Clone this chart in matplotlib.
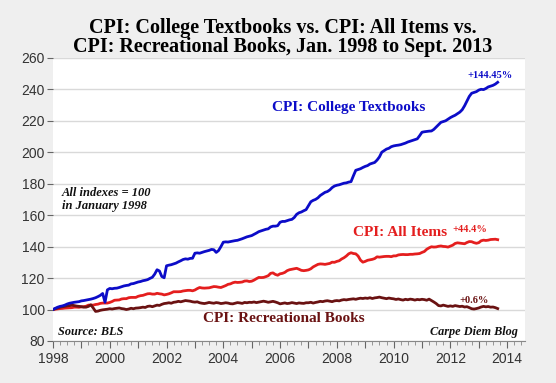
import numpy as np
import matplotlib.pyplot as plt
from matplotlib.ticker import MultipleLocator, FuncFormatter

# monthly index values, Jan 1998 = 100 (Jan 1998 .. Sep 2013)
textbooks = [
    100.0, 100.8, 101.5, 102.0, 102.3, 102.8, 103.5, 104.0, 104.3, 104.6, 104.8, 105.0,
    105.5, 105.7, 106.0, 106.3, 106.6, 107.0, 107.5, 108.2, 109.0, 110.2, 104.6, 112.5,
    113.4, 113.2, 113.5, 113.6, 114.0, 114.5, 115.0, 115.3, 115.5, 116.3, 116.5, 117.0,
    117.5, 117.8, 118.3, 118.6, 119.0, 119.8, 120.5, 122.5, 125.3, 124.5, 121.0, 120.2,
    127.8, 128.2, 128.5, 129.0, 129.5, 130.3, 131.0, 131.8, 132.2, 132.0, 132.5, 132.6,
    135.8, 136.0, 135.8, 136.3, 136.8, 137.2, 137.6, 138.2, 138.0, 136.3, 137.5, 140.0,
    142.8, 143.0, 142.9, 143.2, 143.5, 143.8, 144.0, 144.5, 145.0, 145.6, 146.2, 146.6,
    147.0, 147.8, 148.6, 149.5, 150.0, 150.5, 151.0, 151.3, 152.5, 153.0, 153.0, 153.3,
    155.5, 156.0, 156.0, 156.5, 157.0, 157.3, 158.5, 160.5, 161.5, 162.0, 162.8, 163.5,
    166.0, 168.5, 169.4, 170.0, 171.0, 172.5, 173.5, 174.5, 175.0, 176.0, 177.5, 178.5,
    179.0, 179.3, 179.8, 180.3, 180.5, 181.0, 181.3, 185.0, 188.5, 189.0, 189.5, 190.3,
    191.0, 191.5, 192.5, 193.0, 193.5, 195.0, 197.0, 200.0, 201.0, 202.0, 202.5, 203.5,
    204.0, 204.3, 204.5, 204.8, 205.3, 205.8, 206.5, 207.0, 207.5, 208.0, 208.5, 210.5,
    212.7, 213.0, 213.2, 213.4, 213.5, 214.5, 216.0, 217.5, 219.0, 219.5, 220.0, 221.0,
    222.0, 222.8, 223.5, 224.5, 225.5, 227.0, 229.5, 232.5, 235.5, 237.5, 238.0, 238.5,
    239.5, 240.0, 239.8, 240.5, 241.5, 242.0, 242.5, 243.3, 244.45,
]

all_items = [
    100.0, 100.2, 100.4, 100.6, 100.7, 100.9, 101.0, 101.1, 101.2, 101.5, 101.5, 101.4,
    101.7, 101.8, 102.1, 102.8, 102.8, 102.8, 103.2, 103.4, 103.9, 104.1, 104.1, 104.1,
    104.5, 105.1, 105.9, 106.0, 106.1, 106.7, 106.9, 106.9, 107.5, 107.7, 107.7, 107.7,
    108.4, 108.8, 109.0, 109.5, 110.0, 110.1, 109.8, 109.8, 110.3, 110.0, 109.8, 109.3,
    109.6, 110.0, 110.6, 111.3, 111.3, 111.3, 111.4, 111.8, 112.0, 112.2, 112.2, 111.9,
    112.4, 113.3, 114.0, 113.7, 113.6, 113.7, 113.8, 114.2, 114.6, 114.5, 114.2, 114.0,
    114.6, 115.2, 116.0, 116.3, 117.0, 117.4, 117.2, 117.3, 117.5, 118.1, 118.2, 117.8,
    118.0, 118.7, 119.6, 120.4, 120.3, 120.4, 120.9, 121.5, 123.0, 123.3, 122.3, 121.8,
    122.7, 123.0, 123.6, 124.7, 125.3, 125.6, 125.9, 126.2, 125.6, 124.9, 124.7, 124.9,
    125.2, 125.9, 127.1, 127.9, 128.7, 129.0, 128.9, 128.7, 129.0, 129.3, 130.1, 130.0,
    130.6, 131.0, 132.1, 132.9, 134.0, 135.4, 136.1, 135.6, 135.4, 134.0, 131.4, 130.1,
    130.6, 131.3, 131.6, 131.9, 132.4, 133.5, 133.3, 133.5, 133.7, 133.8, 133.8, 133.6,
    134.1, 134.1, 134.7, 134.9, 135.0, 134.9, 134.9, 135.1, 135.1, 135.3, 135.4, 135.6,
    136.3, 136.9, 138.3, 139.2, 139.9, 139.7, 139.8, 140.2, 140.4, 140.1, 140.0, 139.7,
    140.3, 140.9, 142.0, 142.4, 142.2, 142.0, 141.8, 142.6, 143.2, 143.1, 142.5, 142.1,
    142.5, 143.7, 144.1, 143.9, 144.1, 144.5, 144.6, 144.7, 144.4,
]

rec_books = [
    100.0, 100.5, 101.0, 101.5, 101.8, 102.0, 102.3, 102.5, 102.8, 102.5, 102.2, 102.0,
    101.8, 101.5, 101.5, 102.0, 103.0, 101.0, 98.8, 99.0, 99.5, 99.8, 100.0, 100.2,
    100.5, 100.3, 100.6, 100.8, 101.0, 100.6, 100.4, 100.0, 100.3, 100.8, 100.5, 100.9,
    101.0, 101.2, 101.5, 101.3, 102.0, 102.2, 101.8, 102.3, 102.8, 102.6, 103.3, 103.8,
    104.0, 104.3, 104.0, 104.6, 104.8, 105.2, 104.9, 105.3, 105.7, 105.5, 105.3, 104.9,
    104.7, 104.9, 104.3, 104.0, 103.8, 104.1, 104.5, 104.2, 104.0, 104.4, 104.2, 103.8,
    104.0, 104.3, 104.1, 103.7, 103.6, 104.0, 104.4, 104.2, 103.9, 104.5, 104.3, 104.6,
    104.5, 104.8, 104.4, 104.7, 105.0, 105.3, 105.0, 104.6, 104.9, 105.2, 104.8, 104.3,
    103.6, 103.9, 104.2, 103.8, 104.0, 104.4, 104.1, 103.8, 104.2, 104.0, 103.9, 104.3,
    104.3, 104.6, 104.1, 104.5, 104.8, 105.2, 105.0, 105.4, 105.6, 105.3, 105.0, 105.5,
    105.7, 105.5, 106.0, 106.3, 106.1, 106.4, 106.6, 106.8, 106.5, 106.9, 107.2, 107.0,
    107.3, 107.1, 107.5, 107.0, 107.4, 107.6, 107.9, 107.5, 107.2, 106.9, 107.3, 107.0,
    106.8, 106.4, 106.7, 106.3, 106.0, 106.5, 106.2, 106.6, 106.4, 106.0, 106.4, 106.2,
    106.5, 106.3, 105.9, 106.6, 105.7, 104.8, 103.8, 102.5, 102.3, 102.8, 102.4, 102.0,
    102.3, 102.0, 102.5, 102.2, 101.9, 102.1, 101.6, 101.8, 101.2, 100.5, 100.3, 100.6,
    101.0, 101.6, 102.0, 101.7, 101.9, 101.5, 101.6, 101.2, 100.6,
]

t = 1998 + np.arange(len(textbooks)) / 12.0

blue = '#0c0cc8'
red = '#e41e1e'
maroon = '#6a1212'
serif = ['Liberation Serif', 'DejaVu Serif']

fig = plt.figure(figsize=(5.56, 3.83), dpi=100)
fig.patch.set_facecolor('#efefef')
ax = fig.add_axes([0.0953, 0.1097, 0.849, 0.7393])
ax.set_facecolor('white')

ax.plot(t, all_items, color=red, lw=2.0, zorder=3)
ax.plot(t, rec_books, color=maroon, lw=2.0, zorder=3)
ax.plot(t, textbooks, color=blue, lw=2.0, zorder=4)

ax.set_xlim(1998, 2014.63)
ax.set_ylim(80, 260)
ax.yaxis.set_major_locator(MultipleLocator(20))
ax.xaxis.set_major_locator(MultipleLocator(1))
ax.xaxis.set_minor_locator(MultipleLocator(0.25))
ax.xaxis.set_major_formatter(FuncFormatter(lambda v, p: '%d' % v if int(round(v)) % 2 == 0 else ''))
ax.grid(axis='y', color='#d9d9d9', lw=1)
ax.set_axisbelow(True)

for s in ['top', 'right', 'left']:
    ax.spines[s].set_visible(False)
ax.spines['bottom'].set_color('#888888')
ax.spines['bottom'].set_linewidth(0.8)

ax.tick_params(axis='y', length=4, color='#666666', labelsize=10, labelcolor='#333333', pad=2)
ax.tick_params(axis='x', which='major', length=5, color='#666666', labelsize=10, labelcolor='#333333', pad=3)
ax.tick_params(axis='x', which='minor', length=3, color='#888888')
for label in ax.get_xticklabels() + ax.get_yticklabels():
    label.set_family(['Liberation Sans', 'DejaVu Sans'])

fig.text(0.509, 0.928, 'CPI: College Textbooks vs. CPI: All Items vs.',
         ha='center', va='center', fontsize=14.5, fontweight='bold', family=serif)
fig.text(0.509, 0.876, 'CPI: Recreational Books, Jan. 1998 to Sept. 2013',
         ha='center', va='center', fontsize=14.5, fontweight='bold', family=serif)

ax.text(2013.4, 249, '+144.45%', color=blue, fontsize=7.5, fontweight='bold', ha='center', va='center', family=serif)
ax.text(2008.43, 228.7, 'CPI: College Textbooks', color=blue, fontsize=11, fontweight='bold', ha='center', va='center', family=serif)
ax.text(1998.32, 170, 'All indexes = 100\nin January 1998', color='#111111', fontsize=9, fontweight='bold',
        style='italic', ha='left', va='center', linespacing=1.15, family=serif)
ax.text(2010.23, 149, 'CPI: All Items', color=red, fontsize=11, fontweight='bold', ha='center', va='center', family=serif)
ax.text(2012.7, 151, '+44.4%', color=red, fontsize=7.5, fontweight='bold', ha='center', va='center', family=serif)
ax.text(2012.84, 105.7, '+0.6%', color=maroon, fontsize=7.5, fontweight='bold', ha='center', va='center', family=serif)
ax.text(2006.14, 94.3, 'CPI: Recreational Books', color=maroon, fontsize=11, fontweight='bold', ha='center', va='center', family=serif)
ax.text(1998.18, 85.4, 'Source: BLS', color='#111111', fontsize=8.8, fontweight='bold', style='italic', ha='left', va='center', family=serif)
ax.text(2014.39, 85.4, 'Carpe Diem Blog', color='#111111', fontsize=8.8, fontweight='bold', style='italic', ha='right', va='center', family=serif)

fig.savefig('out.png', dpi=100, facecolor=fig.get_facecolor())
